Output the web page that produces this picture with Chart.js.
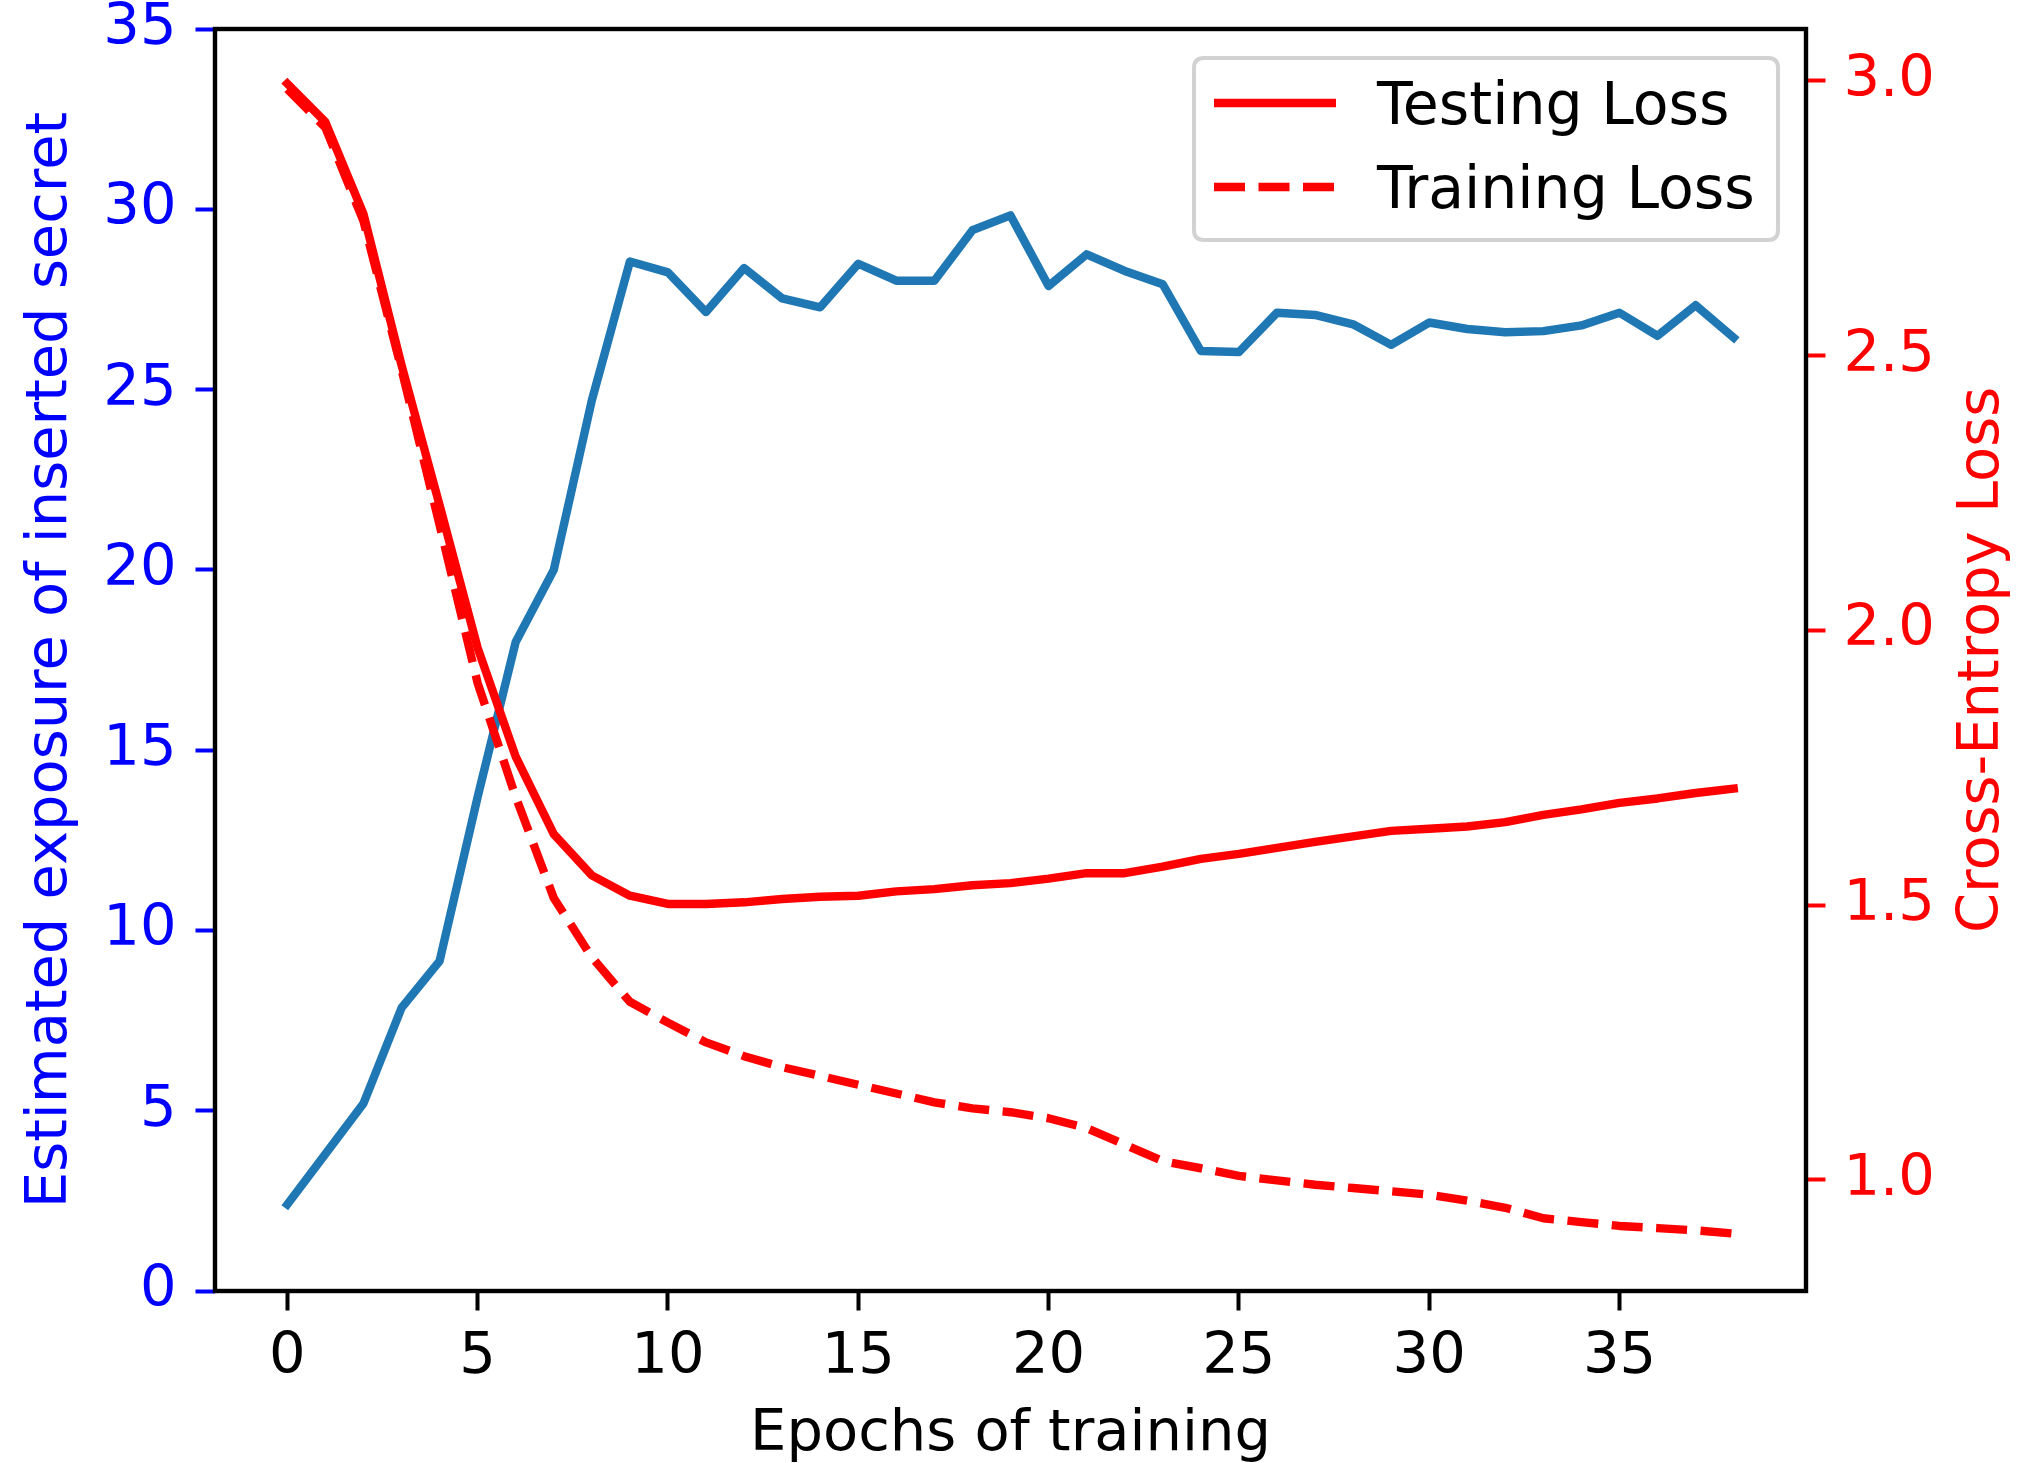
<!DOCTYPE html>
<html>
<head>
<meta charset="utf-8">
<script src="https://cdn.jsdelivr.net/npm/chart.js@4.4.1/dist/chart.umd.min.js"></script>
<style>
  html, body { margin: 0; padding: 0; background: #ffffff; }
  #wrap { width: 2020px; height: 1463px; position: relative; }
</style>
</head>
<body>
<div id="wrap"><canvas id="c" width="2020" height="1463"></canvas></div>
<script>
// ---- data ----
const epochs = [0, 1, 2, 3, 4, 5, 6, 7, 8, 9, 10, 11, 12, 13, 14, 15, 16, 17, 18, 19,
                20, 21, 22, 23, 24, 25, 26, 27, 28, 29, 30, 31, 32, 33, 34, 35, 36, 37, 38];

const exposure = [2.4, 3.8, 5.2, 7.85, 9.15, 13.7, 18.0, 20.0, 24.7, 28.55,
                  28.25, 27.15, 28.37, 27.53, 27.28, 28.49, 28.02, 28.02, 29.42, 29.83,
                  27.87, 28.75, 28.29, 27.92, 26.07, 26.04, 27.13, 27.07, 26.81, 26.24,
                  26.86, 26.68, 26.59, 26.62, 26.78, 27.13, 26.49, 27.34, 26.44];

const testingLoss = [2.995, 2.925, 2.758, 2.483, 2.228, 1.968, 1.770, 1.629, 1.554, 1.517,
                     1.502, 1.502, 1.505, 1.511, 1.515, 1.517, 1.525, 1.529, 1.536, 1.540,
                     1.548, 1.558, 1.558, 1.570, 1.584, 1.593, 1.604, 1.615, 1.625, 1.635,
                     1.639, 1.643, 1.651, 1.664, 1.674, 1.686, 1.694, 1.704, 1.712];

const trainingLoss = [2.985, 2.915, 2.745, 2.475, 2.192, 1.904, 1.697, 1.513, 1.405, 1.324,
                      1.286, 1.250, 1.225, 1.205, 1.189, 1.173, 1.157, 1.141, 1.130, 1.123,
                      1.112, 1.094, 1.064, 1.034, 1.021, 1.007, 0.999, 0.991, 0.985, 0.979,
                      0.973, 0.962, 0.949, 0.930, 0.923, 0.916, 0.912, 0.908, 0.902];

const xTickValues = [0, 5, 10, 15, 20, 25, 30, 35];
const leftTickValues = [0, 5, 10, 15, 20, 25, 30, 35];
const rightTickValues = [1.0, 1.5, 2.0, 2.5, 3.0];

const seriesLabels = ['Testing Loss', 'Training Loss', 'Estimated exposure'];
const xTitle = 'Epochs of training';
const leftTitle = 'Estimated exposure of inserted secret';
const rightTitle = 'Cross-Entropy Loss';

// ---- styling ----
const FONT = "'DejaVu Sans', 'Liberation Sans', sans-serif";
const FS = 57.5;
const LEGEND_FS = 58.5;
const BLUE_LINE = '#1f77b4';
const RED = '#ff0000';
const BLUE_TEXT = '#0000ff';
const LW = 8.4;
const DASH = [31, 13.5];

const toPts = (ys) => epochs.map((e, i) => ({ x: e, y: ys[i] }));

const framePlugin = {
  id: 'frame',
  afterDatasetsDraw(chart) {
    const { ctx, chartArea: a } = chart;
    ctx.save();
    ctx.strokeStyle = '#000000';
    ctx.lineWidth = 4.4;
    ctx.lineJoin = 'miter';
    ctx.strokeRect(a.left, a.top, a.right - a.left, a.bottom - a.top);
    ctx.restore();
  }
};

const rightTitlePlugin = {
  id: 'rightTitle',
  afterDraw(chart) {
    const { ctx } = chart;
    const s = chart.scales.y1;
    const a = chart.chartArea;
    ctx.save();
    ctx.translate(s.right - 37, (a.top + a.bottom) / 2);
    ctx.rotate(-Math.PI / 2);
    ctx.font = FS + 'px ' + FONT;
    ctx.fillStyle = RED;
    ctx.textAlign = 'center';
    ctx.textBaseline = 'middle';
    ctx.fillText(rightTitle, 0, 0);
    ctx.restore();
  }
};

const legendPlugin = {
  id: 'boxLegend',
  afterDraw(chart) {
    const { ctx } = chart;
    const a = chart.chartArea;
    const bx = a.right - 28, by = a.top + 29;
    const w = 584, h = 182, r = 10;
    const x0 = bx - w, y0 = by;
    ctx.save();
    ctx.beginPath();
    ctx.moveTo(x0 + r, y0);
    ctx.lineTo(x0 + w - r, y0);
    ctx.quadraticCurveTo(x0 + w, y0, x0 + w, y0 + r);
    ctx.lineTo(x0 + w, y0 + h - r);
    ctx.quadraticCurveTo(x0 + w, y0 + h, x0 + w - r, y0 + h);
    ctx.lineTo(x0 + r, y0 + h);
    ctx.quadraticCurveTo(x0, y0 + h, x0, y0 + h - r);
    ctx.lineTo(x0, y0 + r);
    ctx.quadraticCurveTo(x0, y0, x0 + r, y0);
    ctx.closePath();
    ctx.fillStyle = 'rgba(255,255,255,0.8)';
    ctx.fill();
    ctx.strokeStyle = '#d2d2d2';
    ctx.lineWidth = 4;
    ctx.stroke();

    const items = chart.data.datasets.filter(d => d.inLegend);
    items.forEach((d, i) => {
      const ly = y0 + 45 + i * 84;
      ctx.beginPath();
      ctx.strokeStyle = d.borderColor;
      ctx.lineWidth = d.borderWidth;
      ctx.setLineDash(d.borderDash || []);
      ctx.lineCap = 'butt';
      ctx.moveTo(x0 + 20, ly);
      ctx.lineTo(x0 + 142, ly);
      ctx.stroke();
      ctx.setLineDash([]);
      ctx.font = LEGEND_FS + 'px ' + FONT;
      ctx.fillStyle = '#000000';
      ctx.textAlign = 'left';
      ctx.textBaseline = 'alphabetic';
      ctx.fillText(d.label, x0 + 183, ly + 21);
    });
    ctx.restore();
  }
};

Chart.defaults.font.family = FONT;
Chart.defaults.font.size = FS;

new Chart(document.getElementById('c'), {
  type: 'line',
  data: {
    datasets: [
      {
        label: seriesLabels[0], data: toPts(testingLoss), yAxisID: 'y1',
        borderColor: RED, borderWidth: LW, pointRadius: 0, tension: 0,
        borderJoinStyle: 'round', borderCapStyle: 'square', fill: false, order: 2, inLegend: true
      },
      {
        label: seriesLabels[1], data: toPts(trainingLoss), yAxisID: 'y1',
        borderColor: RED, borderWidth: LW, borderDash: DASH, pointRadius: 0, tension: 0,
        borderJoinStyle: 'round', borderCapStyle: 'butt', fill: false, order: 1, inLegend: true
      },
      {
        label: seriesLabels[2], data: toPts(exposure), yAxisID: 'y',
        borderColor: BLUE_LINE, borderWidth: LW, pointRadius: 0, tension: 0,
        borderJoinStyle: 'round', borderCapStyle: 'square', fill: false, order: 3, inLegend: false
      }
    ]
  },
  options: {
    responsive: false,
    animation: false,
    devicePixelRatio: 1,
    layout: { padding: { top: 29, left: 0, right: 0, bottom: 0 } },
    plugins: { legend: { display: false }, tooltip: { enabled: false } },
    scales: {
      x: {
        type: 'linear', position: 'bottom', min: -1.9, max: 39.9, bounds: 'data',
        afterBuildTicks: (s) => { s.ticks = xTickValues.map(v => ({ value: v })); },
        afterFit: (s) => { s.height = 172; s.paddingLeft = 0; s.paddingRight = 0; },
        grid: { display: true, drawOnChartArea: false, drawTicks: true, tickLength: 19.5, tickWidth: 4, tickColor: '#000000' },
        border: { display: false },
        ticks: { color: '#000000', padding: 13, maxRotation: 0, autoSkip: false, font: { size: FS } },
        title: { display: true, text: xTitle, color: '#000000', font: { size: FS }, padding: { top: 0, bottom: -7 } }
      },
      y: {
        type: 'linear', position: 'left', min: 0, max: 35, bounds: 'data',
        afterBuildTicks: (s) => { s.ticks = leftTickValues.map(v => ({ value: v })); },
        afterFit: (s) => { s.width = 215; s.paddingTop = 0; s.paddingBottom = 0; },
        grid: { display: true, drawOnChartArea: false, drawTicks: true, tickLength: 19.5, tickWidth: 4, tickColor: BLUE_TEXT },
        border: { display: false },
        ticks: { color: BLUE_TEXT, padding: 19, autoSkip: false, font: { size: FS } },
        title: { display: true, text: leftTitle, color: BLUE_TEXT, font: { size: FS }, padding: { top: 17, bottom: 0 } }
      },
      y1: {
        type: 'linear', position: 'right', min: 0.7976, max: 3.0944, bounds: 'data',
        afterBuildTicks: (s) => { s.ticks = rightTickValues.map(v => ({ value: v })); },
        afterFit: (s) => { s.width = 214; s.paddingTop = 0; s.paddingBottom = 0; },
        grid: { display: true, drawOnChartArea: false, drawTicks: true, tickLength: 19.5, tickWidth: 4, tickColor: RED },
        border: { display: false },
        ticks: { color: RED, padding: 18, autoSkip: false, font: { size: FS }, callback: (v) => Number(v).toFixed(1) }
      }
    }
  },
  plugins: [framePlugin, legendPlugin, rightTitlePlugin]
});
</script>
</body>
</html>
